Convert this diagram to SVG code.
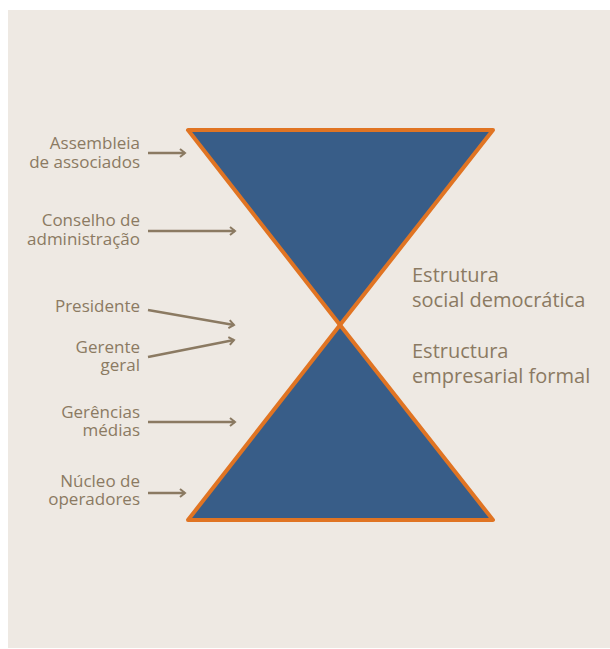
<svg xmlns="http://www.w3.org/2000/svg" width="610" height="649" viewBox="0 0 610 649">
<defs>
<marker id="ah" viewBox="0 0 10 10" refX="8" refY="5" markerWidth="10" markerHeight="10" markerUnits="userSpaceOnUse" orient="auto">
<path d="M3,1 L8,5 L3,9" fill="none" stroke="#8B7A62" stroke-width="2"/>
</marker>
<style>
.lbl{font-family:"Open Sans","Liberation Sans",sans-serif;font-size:17px;fill:#8B7A62;text-anchor:end}
.big{font-family:"Open Sans","Liberation Sans",sans-serif;font-size:20px;fill:#8B7A62}
.tri{fill:#385D88;stroke:#E07423;stroke-width:4;stroke-linejoin:round}
.con{stroke:#8B7A62;stroke-width:2.5;fill:none;marker-end:url(#ah)}
</style>
</defs>
<rect x="0" y="0" width="610" height="649" fill="#ffffff"/>
<rect x="8" y="10" width="602" height="638" fill="#EEE9E3"/>
<g id="top-triangle"><polygon class="tri" points="188,130 493,130 340,325"/></g>
<g id="bottom-triangle"><polygon class="tri" points="340,325 493,520 188,520"/></g>
<g id="connectors">
<line class="con" x1="148" y1="153" x2="185" y2="153"/>
<line class="con" x1="148" y1="231" x2="235" y2="231"/>
<line class="con" x1="148" y1="310" x2="234" y2="325"/>
<line class="con" x1="148" y1="357" x2="234" y2="340"/>
<line class="con" x1="148" y1="422" x2="235" y2="422"/>
<line class="con" x1="148" y1="493" x2="185" y2="493"/>
</g>
<g id="assembleia"><text class="lbl" x="140" y="149">Assembleia</text><text class="lbl" x="140" y="168">de associados</text></g>
<g id="conselho"><text class="lbl" x="140" y="226">Conselho de</text><text class="lbl" x="140" y="245">administração</text></g>
<g id="presidente"><text class="lbl" x="140" y="312">Presidente</text></g>
<g id="gerente"><text class="lbl" x="140" y="353">Gerente</text><text class="lbl" x="140" y="371">geral</text></g>
<g id="gerencias"><text class="lbl" x="140" y="418">Gerências</text><text class="lbl" x="140" y="436">médias</text></g>
<g id="nucleo"><text class="lbl" x="140" y="487">Núcleo de</text><text class="lbl" x="140" y="505">operadores</text></g>
<g id="social"><text class="big" x="412" y="282">Estrutura</text><text class="big" x="412" y="307">social democrática</text></g>
<g id="empresarial"><text class="big" x="412" y="358">Estructura</text><text class="big" x="412" y="383">empresarial formal</text></g>
</svg>
